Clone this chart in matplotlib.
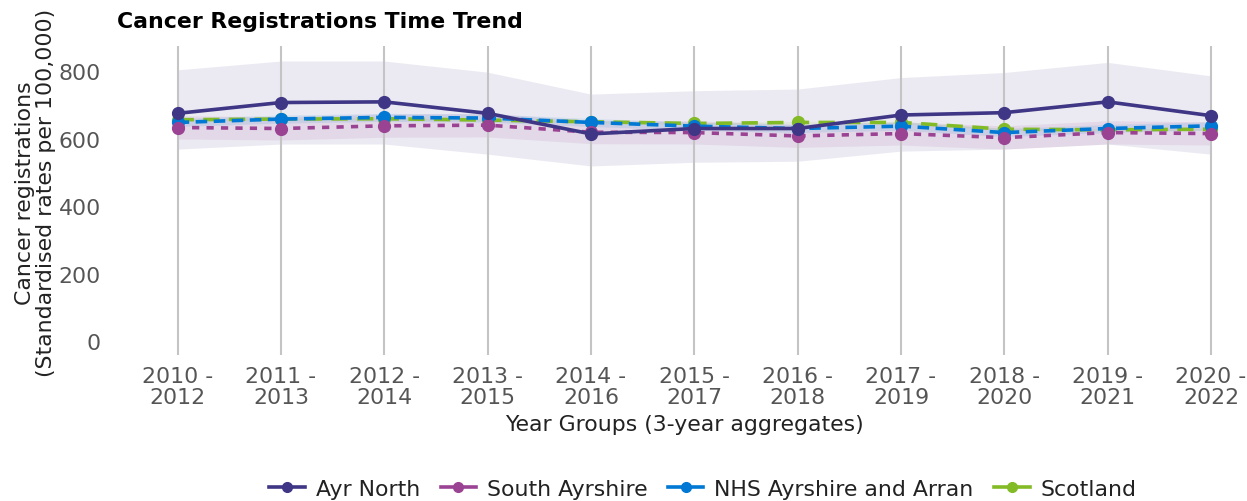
import matplotlib
matplotlib.use("Agg")
import matplotlib.pyplot as plt
from matplotlib.lines import Line2D
import numpy as np

periods = ["2010 -\n2012", "2011 -\n2013", "2012 -\n2014", "2013 -\n2015", "2014 -\n2016",
           "2015 -\n2017", "2016 -\n2018", "2017 -\n2019", "2018 -\n2020", "2019 -\n2021",
           "2020 -\n2022"]

ayr_north = [675, 707, 709, 675, 614, 630, 630, 670, 677, 709, 668]
ayr_north_upper = [804, 830, 830, 797, 732, 742, 747, 781, 796, 826, 786]
ayr_north_lower = [569, 584, 584, 554, 519, 530, 533, 563, 569, 584, 554]

south_ayrshire = [633, 630, 638, 640, 619, 618, 608, 615, 603, 618, 615]
south_ayrshire_upper = [668, 665, 673, 675, 654, 653, 643, 650, 638, 653, 650]
south_ayrshire_lower = [599, 596, 604, 605, 585, 584, 574, 581, 569, 584, 581]

nhs = [648, 658, 663, 661, 648, 637, 630, 637, 618, 630, 638]
nhs_upper = [660, 670, 675, 673, 660, 649, 642, 649, 630, 642, 650]
nhs_lower = [636, 646, 651, 649, 636, 625, 618, 625, 606, 618, 626]

scotland = [656, 658, 659, 655, 650, 645, 648, 648, 628, 626, 628]
scotland_upper = [659, 661, 662, 658, 653, 648, 651, 651, 631, 629, 631]
scotland_lower = [653, 655, 656, 652, 647, 642, 645, 645, 625, 623, 625]

names = ["Ayr North", "South Ayrshire", "NHS Ayrshire and Arran", "Scotland"]
colors = ["#3F3685", "#9B4393", "#0078D4", "#83BB26"]
dashes = [None, (2.0, 2.0), (3.2, 1.8), (4.5, 2.6)]

series = [
    (ayr_north, ayr_north_lower, ayr_north_upper),
    (south_ayrshire, south_ayrshire_lower, south_ayrshire_upper),
    (nhs, nhs_lower, nhs_upper),
    (scotland, scotland_lower, scotland_upper),
]

fig = plt.figure(figsize=(12.47, 5.02), dpi=100)
ax = fig.add_axes([0.101, 0.291, 0.895, 0.615])

x = np.arange(len(periods))

for i, (vals, lo, hi) in enumerate(series):
    ax.fill_between(x, lo, hi, color=colors[i], alpha=0.10, linewidth=0, zorder=1)

zorders = [8, 7, 6, 5]
for i, (vals, lo, hi) in enumerate(series):
    ln, = ax.plot(x, vals, color=colors[i], lw=2.6, marker="o", markersize=8.5,
                  zorder=zorders[i])
    if dashes[i] is not None:
        ln.set_dashes(dashes[i])

ax.set_xlim(-0.5, 10.3)
ax.set_ylim(-41, 874)
ax.set_xticks(x)
ax.set_xticklabels(periods, fontsize=15.8, color="#555555", linespacing=1.08)
ax.set_yticks([0, 200, 400, 600, 800])
ax.tick_params(axis="y", labelsize=15.8, labelcolor="#555555", length=0, pad=18)
ax.tick_params(axis="x", length=0, pad=8)
ax.grid(axis="x", color="#c4c4c4", lw=1.5, zorder=0)
ax.grid(axis="y", visible=False)
for s in ax.spines.values():
    s.set_visible(False)

ax.set_xlabel("Year Groups (3-year aggregates)", fontsize=15.8, color="#222222", labelpad=5)
fig.text(0.0285, 0.615, "Cancer registrations\n(Standardised rates per 100,000)",
         rotation=90, ha="center", va="center", fontsize=15.8, color="#222222",
         multialignment="center", linespacing=1.12)

fig.text(117 / 1247, 1 - 22 / 502, "Cancer Registrations Time Trend", fontsize=15.8,
         fontweight="bold", ha="left", va="center", color="#000000")

handles = [Line2D([0], [0], color=c, lw=2.6, marker="o", markersize=7) for c in colors]
fig.legend(handles, names, loc="center", bbox_to_anchor=(703 / 1247, 1 - 490 / 502), ncol=4,
           frameon=False, fontsize=15.8, handlelength=1.6, handletextpad=0.5,
           columnspacing=0.95, labelcolor="#222222")

fig.savefig("out.png", dpi=100)
